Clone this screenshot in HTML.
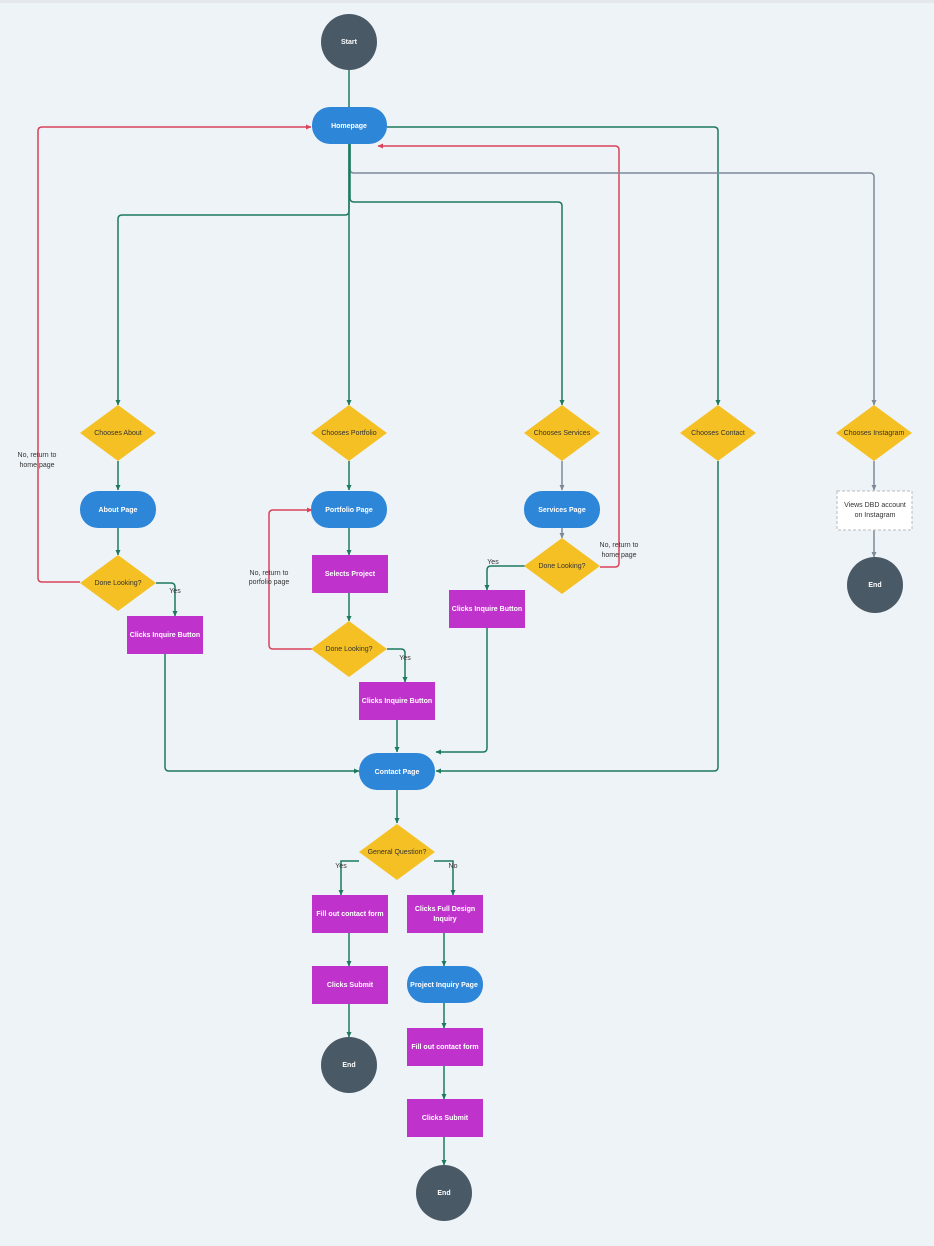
<!DOCTYPE html>
<html><head><meta charset="utf-8"><style>
html,body{margin:0;padding:0;background:#eef3f7;}
svg{display:block;font-family:"Liberation Sans",sans-serif;}
.t{font-size:7px;fill:#fff;font-weight:bold;text-anchor:middle;dominant-baseline:middle}
.d{font-size:7px;fill:#333;text-anchor:middle;dominant-baseline:middle}
.l{font-size:7px;fill:#333;text-anchor:middle}
.g{fill:none;stroke:#1d7a5f;stroke-width:1.5}
.r{fill:none;stroke:#d9435a;stroke-width:1.5}
.s{fill:none;stroke:#7d8a99;stroke-width:1.5}
</style></head><body>
<svg width="934" height="1246" viewBox="0 0 934 1246">
<defs>
<marker id="ag" markerUnits="userSpaceOnUse" markerWidth="6" markerHeight="6" refX="5" refY="3" orient="auto"><path d="M0,0.5L5.5,3L0,5.5z" fill="#1d7a5f"/></marker>
<marker id="ar" markerUnits="userSpaceOnUse" markerWidth="6" markerHeight="6" refX="5" refY="3" orient="auto"><path d="M0,0.5L5.5,3L0,5.5z" fill="#d9435a"/></marker>
<marker id="as" markerUnits="userSpaceOnUse" markerWidth="6" markerHeight="6" refX="5" refY="3" orient="auto"><path d="M0,0.5L5.5,3L0,5.5z" fill="#7d8a99"/></marker>
</defs>
<rect x="0" y="0" width="934" height="3" fill="#e4e8ec"/>
<path class="g" d="M349,70V107"/>
<path class="r" marker-end="url(#ar)" d="M80,582H42Q38,582 38,578V131Q38,127 42,127H311"/>
<path class="r" marker-end="url(#ar)" d="M600,567H615Q619,567 619,563V150Q619,146 615,146H378"/>
<path class="g" marker-end="url(#ag)" d="M387,127H714Q718,127 718,131V405"/>
<path class="s" marker-end="url(#as)" d="M350,144V169Q350,173 354,173H870Q874,173 874,177V405"/>
<path class="g" marker-end="url(#ag)" d="M350,144V198Q350,202 354,202H558Q562,202 562,206V405"/>
<path class="g" marker-end="url(#ag)" d="M349,144V211Q349,215 345,215H122Q118,215 118,219V405"/>
<path class="g" marker-end="url(#ag)" d="M349,144V405"/>
<path class="g" marker-end="url(#ag)" d="M118,461V490"/>
<path class="g" marker-end="url(#ag)" d="M349,461V490"/>
<path class="s" marker-end="url(#as)" d="M562,461V490"/>
<path class="s" marker-end="url(#as)" d="M874,461V490"/>
<path class="s" marker-end="url(#as)" d="M874,530V557"/>
<path class="g" marker-end="url(#ag)" d="M118,528V555"/>
<path class="g" marker-end="url(#ag)" d="M349,528V555"/>
<path class="g" marker-end="url(#ag)" d="M349,592V621"/>
<path class="s" marker-end="url(#as)" d="M562,528V538"/>
<path class="g" marker-end="url(#ag)" d="M156,583H171Q175,583 175,587V616"/>
<path class="g" marker-end="url(#ag)" d="M387,649H401Q405,649 405,653V682"/>
<path class="g" marker-end="url(#ag)" d="M525,566H491Q487,566 487,570V590"/>
<path class="r" marker-end="url(#ar)" d="M312,649H273Q269,649 269,645V514Q269,510 273,510H312"/>
<path class="g" marker-end="url(#ag)" d="M165,653V767Q165,771 169,771H359"/>
<path class="g" marker-end="url(#ag)" d="M397,719V752"/>
<path class="g" marker-end="url(#ag)" d="M487,628V748Q487,752 483,752H436"/>
<path class="g" marker-end="url(#ag)" d="M718,461V767Q718,771 714,771H436"/>
<path class="g" marker-end="url(#ag)" d="M397,790V823"/>
<path class="g" marker-end="url(#ag)" d="M359,861H341V895"/>
<path class="g" marker-end="url(#ag)" d="M434,861H453V895"/>
<path class="g" marker-end="url(#ag)" d="M349,932V966"/>
<path class="g" marker-end="url(#ag)" d="M349,1003V1037"/>
<path class="g" marker-end="url(#ag)" d="M444,932V966"/>
<path class="g" marker-end="url(#ag)" d="M444,1003V1028"/>
<path class="g" marker-end="url(#ag)" d="M444,1065V1099"/>
<path class="g" marker-end="url(#ag)" d="M444,1136V1165"/>
<text class="l" x="37" y="457">No, return to</text><text class="l" x="37" y="467">home page</text>
<text class="l" x="269" y="575">No, return to</text><text class="l" x="269" y="584">porfolio page</text>
<text class="l" x="619" y="547">No, return to</text><text class="l" x="619" y="557">home page</text>
<text class="l" x="175" y="593">Yes</text>
<text class="l" x="405" y="660">Yes</text>
<text class="l" x="493" y="564">Yes</text>
<text class="l" x="341" y="868">Yes</text>
<text class="l" x="453" y="868">No</text>
<circle cx="349" cy="42" r="28" fill="#4a5966"/><text class="t" x="349" y="42">Start</text>
<rect x="312" y="107" width="75" height="37" rx="18" fill="#2e86d9"/><text class="t" x="349" y="126">Homepage</text>
<g fill="#f5c024">
<path d="M118,405L156,433L118,461L80,433z"/><path d="M349,405L387,433L349,461L311,433z"/>
<path d="M562,405L600,433L562,461L524,433z"/><path d="M718,405L756,433L718,461L680,433z"/>
<path d="M874,405L912,433L874,461L836,433z"/>
<path d="M118,555L156,583L118,611L80,583z"/><path d="M349,621L387,649L349,677L311,649z"/>
<path d="M562,538L600,566L562,594L524,566z"/><path d="M397,824L435,852L397,880L359,852z"/>
</g>
<text class="d" x="118" y="433">Chooses About</text><text class="d" x="349" y="433">Chooses Portfolio</text>
<text class="d" x="562" y="433">Chooses Services</text><text class="d" x="718" y="433">Chooses Contact</text>
<text class="d" x="874" y="433">Chooses Instagram</text>
<text class="d" x="118" y="583">Done Looking?</text><text class="d" x="349" y="649">Done Looking?</text>
<text class="d" x="562" y="566">Done Looking?</text><text class="d" x="397" y="852">General Question?</text>
<g fill="#2e86d9">
<rect x="80" y="491" width="76" height="37" rx="18"/><rect x="311" y="491" width="76" height="37" rx="18"/>
<rect x="524" y="491" width="76" height="37" rx="18"/><rect x="359" y="753" width="76" height="37" rx="18"/>
<rect x="407" y="966" width="76" height="37" rx="18"/>
</g>
<text class="t" x="118" y="510">About Page</text><text class="t" x="349" y="510">Portfolio Page</text>
<text class="t" x="562" y="510">Services Page</text><text class="t" x="397" y="772">Contact Page</text>
<text class="t" x="444" y="985">Project Inquiry Page</text>
<g fill="#c032cc">
<rect x="127" y="616" width="76" height="38"/><rect x="312" y="555" width="76" height="38"/>
<rect x="359" y="682" width="76" height="38"/><rect x="449" y="590" width="76" height="38"/>
<rect x="312" y="895" width="76" height="38"/><rect x="407" y="895" width="76" height="38"/>
<rect x="312" y="966" width="76" height="38"/><rect x="407" y="1028" width="76" height="38"/>
<rect x="407" y="1099" width="76" height="38"/>
</g>
<text class="t" x="165" y="635">Clicks Inquire Button</text><text class="t" x="350" y="574">Selects Project</text>
<text class="t" x="397" y="701">Clicks Inquire Button</text><text class="t" x="487" y="609">Clicks Inquire Button</text>
<text class="t" x="350" y="914">Fill out contact form</text>
<text class="t" x="445" y="909">Clicks Full Design</text><text class="t" x="445" y="919">Inquiry</text>
<text class="t" x="350" y="985">Clicks Submit</text><text class="t" x="445" y="1047">Fill out contact form</text>
<text class="t" x="445" y="1118">Clicks Submit</text>
<rect x="837" y="491" width="75" height="39" fill="#fff" stroke="#bbb" stroke-dasharray="3,2"/>
<text class="d" x="875" y="505">Views DBD account</text><text class="d" x="875" y="515">on Instagram</text>
<g fill="#4a5966"><circle cx="875" cy="585" r="28"/><circle cx="349" cy="1065" r="28"/><circle cx="444" cy="1193" r="28"/></g>
<text class="t" x="875" y="585">End</text><text class="t" x="349" y="1065">End</text><text class="t" x="444" y="1193">End</text>
</svg>
</body></html>
